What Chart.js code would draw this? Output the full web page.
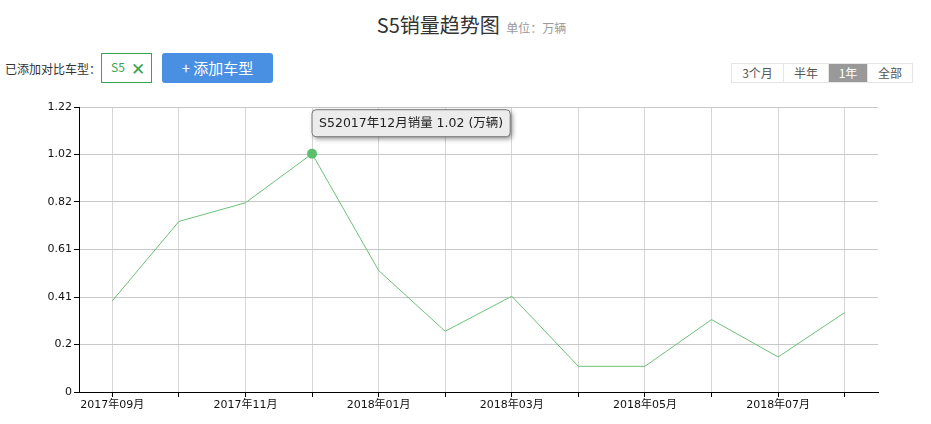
<!DOCTYPE html>
<html><head><meta charset="utf-8">
<script src="https://cdn.jsdelivr.net/npm/chart.js@4/dist/chart.umd.min.js"></script>
<style>
html,body{margin:0;padding:0;background:#fff;width:931px;height:424px;overflow:hidden;font-family:"Noto Sans CJK SC","DejaVu Sans",sans-serif;}
#title{position:absolute;top:10px;left:6px;width:931px;text-align:center;font-size:20px;color:#333;}
#title span{font-size:12px;color:#999;margin-left:2px;}
#lbl{position:absolute;left:5px;top:60px;font-size:12px;color:#333;}
#tag{position:absolute;left:101px;top:53px;width:49px;height:28px;border:1px solid #3aa351;color:#3aa351;font-size:12px;line-height:28px;box-sizing:content-box;}
#tag .t{position:absolute;left:9px;top:-1px;}
#tag .x{position:absolute;left:29px;top:0px;font-size:17px;font-weight:bold;}
#add{position:absolute;left:162px;top:53px;width:111px;height:30px;background:#4a90e2;border-radius:3px;color:#fff;font-size:15px;line-height:30px;text-align:center;}
#seg{position:absolute;left:731px;top:63px;height:20px;display:flex;border:1px solid #e5e5e5;box-sizing:border-box;}
#seg div{height:18px;line-height:18px;font-size:12px;color:#555;text-align:center;border-left:1px solid #e5e5e5;}
#seg div:first-child{border-left:none;}
#seg .on{background:#999;color:#fff;}
#wrap{position:absolute;left:0;top:95px;width:931px;height:329px;}
</style></head><body>
<div id="title">S5销量趋势图 <span>单位：万辆</span></div>
<div id="lbl">已添加对比车型：</div>
<div id="tag"><span class="t">S5</span><span class="x">✕</span></div>
<div id="add">+ 添加车型</div>
<div id="seg"><div style="width:51px">3个月</div><div style="width:44px">半年</div><div class="on" style="width:38px">1年</div><div style="width:44px">全部</div></div>
<div id="wrap"><canvas id="c"></canvas></div>
<script>
const seriesName = "S5";
const months = ["2017年09月","2017年10月","2017年11月","2017年12月","2018年01月","2018年02月","2018年03月","2018年04月","2018年05月","2018年06月","2018年07月","2018年08月"];
const sales = [0.39,0.73,0.81,1.02,0.52,0.26,0.41,0.11,0.11,0.31,0.15,0.34];
const yMax = 1.22;
const yTickLabels = ["0","0.2","0.41","0.61","0.82","1.02","1.22"];
const highlightIndex = 3;

const tooltipPlugin = {
  id:'fixedTip',
  afterDraw(chart){
    const meta = chart.getDatasetMeta(0);
    const pt = meta.data[highlightIndex];
    const ctx = chart.ctx;
    const label = months[highlightIndex].replace(/(\d{4})年(\d{2})月/, (m,y,mo)=>y+'年'+parseInt(mo,10)+'月');
    const text = seriesName + label + '销量 ' + sales[highlightIndex].toFixed(2) + ' (万辆)';
    ctx.save();
    ctx.font = '12.5px "DejaVu Sans","Noto Sans CJK SC",sans-serif';
    const w = ctx.measureText(text).width + 14;
    const h = 27;
    const x = pt.x, y = pt.y - 44;
    ctx.shadowColor = 'rgba(0,0,0,0.45)';
    ctx.shadowBlur = 5; ctx.shadowOffsetX = 2; ctx.shadowOffsetY = 2;
    ctx.beginPath();
    if (ctx.roundRect) ctx.roundRect(x, y, w, h, 4); else ctx.rect(x,y,w,h);
    ctx.fillStyle = '#ececec'; ctx.fill();
    ctx.shadowColor = 'transparent';
    ctx.strokeStyle = '#777'; ctx.lineWidth = 1; ctx.stroke();
    ctx.fillStyle = '#222'; ctx.textBaseline = 'middle';
    ctx.fillText(text, x + 7, y + h/2 + 1);
    ctx.restore();
  }
};

new Chart(document.getElementById('c'), {
  type:'line',
  data:{labels:months, datasets:[{
    label:seriesName, data:sales, borderColor:'#6cc177', borderWidth:1,
    pointRadius:sales.map((v,i)=>i===highlightIndex?5:0),
    pointBackgroundColor:'#5cbf6a', pointBorderWidth:0, tension:0, fill:false
  }]},
  options:{
    responsive:true, maintainAspectRatio:false, animation:false,
    layout:{padding:{top:12,right:53,left:0,bottom:0}},
    plugins:{legend:{display:false}, tooltip:{enabled:false}},
    scales:{
      x:{
        offset:true,
        grid:{offset:false, color:'#d6d6d6', lineWidth:1, drawTicks:true, tickLength:5, tickColor:'#000'},
        border:{color:'#000', width:1},
        ticks:{autoSkip:false, maxRotation:0, color:'#111', font:{size:11, family:'"DejaVu Sans","Noto Sans CJK SC",sans-serif'}, padding:2,
          callback:function(v,i){return i%2===0?months[i]:'';}},
        afterFit(s){s.height=32;}
      },
      y:{
        min:0, max:yMax,
        afterBuildTicks(s){s.ticks=yTickLabels.map((t,i)=>({value:yMax*i/(yTickLabels.length-1)}));},
        grid:{color:'#c8c8c8', lineWidth:1, tickLength:5, tickColor:'#000'},
        border:{color:'#000', width:1},
        ticks:{color:'#111', font:{size:11, family:'"DejaVu Sans",sans-serif'}, padding:2,
          callback:function(v,i){return yTickLabels[i];}},
        afterFit(s){s.width=79;}
      }
    }
  },
  plugins:[tooltipPlugin]
});
</script>
</body></html>
